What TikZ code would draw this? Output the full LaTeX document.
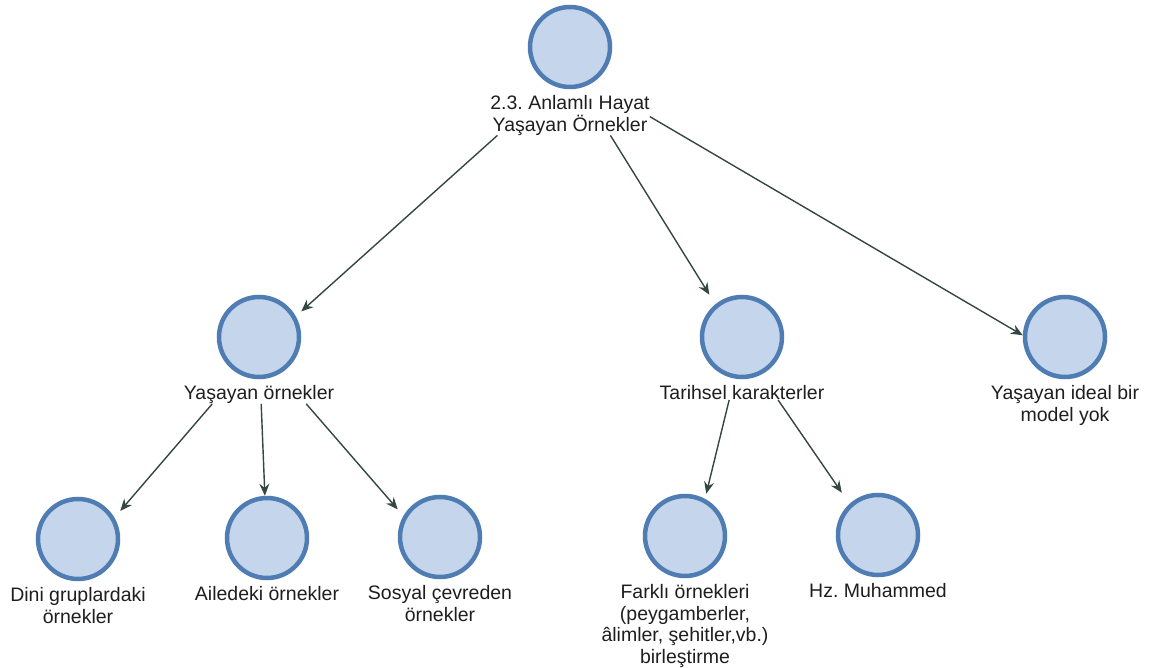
\documentclass[tikz,border=0pt]{standalone}
\usepackage{fontspec}
\setmainfont{Liberation Sans}
\usepackage[HTML]{xcolor}
\usepackage{tikz}
\usetikzlibrary{positioning, arrows.meta, fit, intersections}
\definecolor{ballfill}{HTML}{C5D6EC}
\definecolor{balledge}{HTML}{4F7DB3}
\definecolor{linkcol}{HTML}{34483F}
\definecolor{txtcol}{HTML}{1E1E1E}
\frenchspacing

\begin{document}
\begin{tikzpicture}[x=1pt,y=-1pt,
  ball/.style={circle,fill=ballfill,draw=balledge,line width=4.5pt,minimum size=80pt,inner sep=0pt},
  lbl/.style={align=center,font=\fontsize{19.5}{21.5}\selectfont,text=txtcol,inner sep=0pt},
  grp/.style={rectangle,inner sep=0pt,outer sep=0pt},
  link/.style={-{Stealth[length=12pt,width=10pt,inset=4pt]},draw=linkcol,fill=linkcol,line width=1.4pt}]
\useasboundingbox (0,0) rectangle (1162,668);
% top
\node[ball] (root) at (570,47) {};
\node[lbl,below=6pt of root] (root-l) {2.3. Anlamlı Hayat\\Yaşayan Örnekler};
% middle row
\node[ball] (yo) at (259,337) {};
\node[lbl,below=6pt of yo] (yo-l) {Yaşayan örnekler};
\node[ball] (tk) at (742,337) {};
\node[lbl,below=6pt of tk] (tk-l) {Tarihsel karakterler};
\node[ball] (yi) at (1065,337) {};
\node[lbl,below=6pt of yi] (yi-l) {Yaşayan ideal bir\\model yok};
% bottom row
\node[ball] (dg) at (78,539) {};
\node[lbl,below=6pt of dg] (dg-l) {Dini gruplardaki\\örnekler};
\node[ball] (ao) at (267,538) {};
\node[lbl,below=6pt of ao] (ao-l) {Ailedeki örnekler};
\node[ball] (so) at (440,537) {};
\node[lbl,below=6pt of so] (so-l) {Sosyal çevreden\\örnekler};
\node[ball] (fo) at (685,536) {};
\node[lbl,below=6pt of fo] (fo-l) {Farklı örnekleri\\(peygamberler,\\âlimler, şehitler,vb.)\\birleştirme};
\node[ball] (hz) at (878,535) {};
\node[lbl,below=6pt of hz] (hz-l) {Hz. Muhammed};
% boxes: circle + text, and circle alone
\foreach \n in {root,yo,tk,yi,dg,ao,so,fo,hz} {
  \node[grp,fit=(\n)(\n-l)] (\n-g) {};
  \node[grp,fit=(\n)] (\n-b) {};
}
% links, aimed between the boxes and stopped at the circle's box
\foreach \a/\b in {root/yo,root/tk,root/yi,yo/dg,yo/ao,yo/so,tk/fo,tk/hz} {
  \path[name path=ray] (\a-g.center) -- (\b-g.center);
  \path[name path=edge] (\b-b.north west) rectangle (\b-b.south east);
  \draw[link,name intersections={of=ray and edge,by=tip,sort by=ray}] (\a-g) -- (tip);
}
\end{tikzpicture}
\end{document}
